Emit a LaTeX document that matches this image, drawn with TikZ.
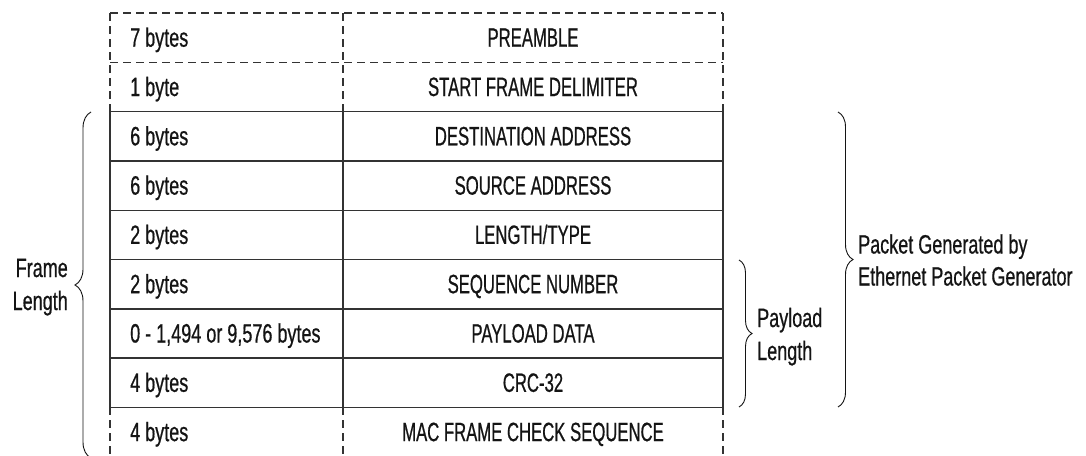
\documentclass[tikz,border=0pt]{standalone}
\usepackage{fontspec}
\setmainfont{Liberation Sans}[FakeStretch=0.68, FakeBold=0.6]
\newfontfamily\capsfam{Liberation Sans}[FakeStretch=0.63, FakeBold=0.6]
\usetikzlibrary{decorations.pathreplacing}
\definecolor{ink}{HTML}{141414}
\definecolor{rule}{HTML}{333333}
\tikzset{
  solidrule/.style={draw=rule, line width=1.4pt},
  dashrule/.style={draw=rule, line width=1.4pt, dash pattern=on 8pt off 5pt},
  txt/.style={inner sep=0pt, text=ink, font=\fontsize{26.5}{32}\selectfont},
  lefttxt/.style={txt, anchor=base west},
  midtxt/.style={txt, anchor=base, font=\capsfam\fontsize{26.5}{32}\selectfont},
  bracepath/.style={draw=ink, line width=0.9pt, decorate, decoration={brace, amplitude=#1}},
}
\begin{document}
\begin{tikzpicture}[x=1pt, y=-1pt]
\useasboundingbox[fill=white] (0,0) rectangle (1086,455);
% row boundaries
\def\rh{49.3}
\foreach \i in {0,...,9} {\coordinate (L\i) at (110, 13+\i*\rh); \coordinate (M\i) at (343, 13+\i*\rh); \coordinate (R\i) at (723, 13+\i*\rh);}
\coordinate (Lb) at (110,456); \coordinate (Mb) at (343,456); \coordinate (Rb) at (723,456);
% dashed part
\draw[dashrule] (L0) -- (R0);
\draw[dashrule] (L1) -- (R1);
\draw[dashrule] (L0) -- (L2);
\draw[dashrule] (M0) -- (M2);
\draw[dashrule] (R0) -- (R2);
\draw[dashrule] (L8) -- (Lb);
\draw[dashrule] (M8) -- (Mb);
\draw[dashrule] (R8) -- (Rb);
% solid part
\foreach \i in {2,...,8} {\draw[solidrule] (L\i) -- (R\i);}
\draw[solidrule] (L2) -- (L8);
\draw[solidrule] (M2) -- (M8);
\draw[solidrule] (R2) -- (R8);
% texts
\foreach \i/\a/\b in {0/7 bytes/PREAMBLE, 1/1 byte/START FRAME DELIMITER, 2/6 bytes/DESTINATION ADDRESS, 3/6 bytes/SOURCE ADDRESS, 4/2 bytes/LENGTH\slash TYPE, 5/2 bytes/SEQUENCE NUMBER, 6/{0 - 1,494 or 9,576 bytes}/PAYLOAD DATA, 7/4 bytes/CRC-32, 8/4 bytes/MAC FRAME CHECK SEQUENCE} {
  \node[lefttxt] (size\i) at (130, 13+\i*\rh+33.7) {\a};
  \node[midtxt] (field\i) at (533, 13+\i*\rh+33.7) {\b};
}
% braces
\coordinate (fbTop) at (91,112);
\coordinate (fbBot) at (91,458);
\draw[bracepath=16pt] (fbBot) -- (fbTop);
\node[txt, anchor=base east] (frame1) at (68,277) {Frame};
\node[txt, anchor=base east] (frame2) at (68,310) {Length};
\coordinate (pbTop) at (739,260);
\coordinate (pbBot) at (739,407);
\draw[bracepath=13pt] (pbTop) -- (pbBot);
\node[lefttxt] (pay1) at (757,327) {Payload};
\node[lefttxt] (pay2) at (757,360) {Length};
\coordinate (gbTop) at (838,112);
\coordinate (gbBot) at (838,407);
\draw[bracepath=15pt] (gbTop) -- (gbBot);
\node[lefttxt] (gen1) at (858,253.5) {Packet Generated by};
\node[lefttxt] (gen2) at (858,285.5) {Ethernet Packet Generator};
\end{tikzpicture}
\end{document}
